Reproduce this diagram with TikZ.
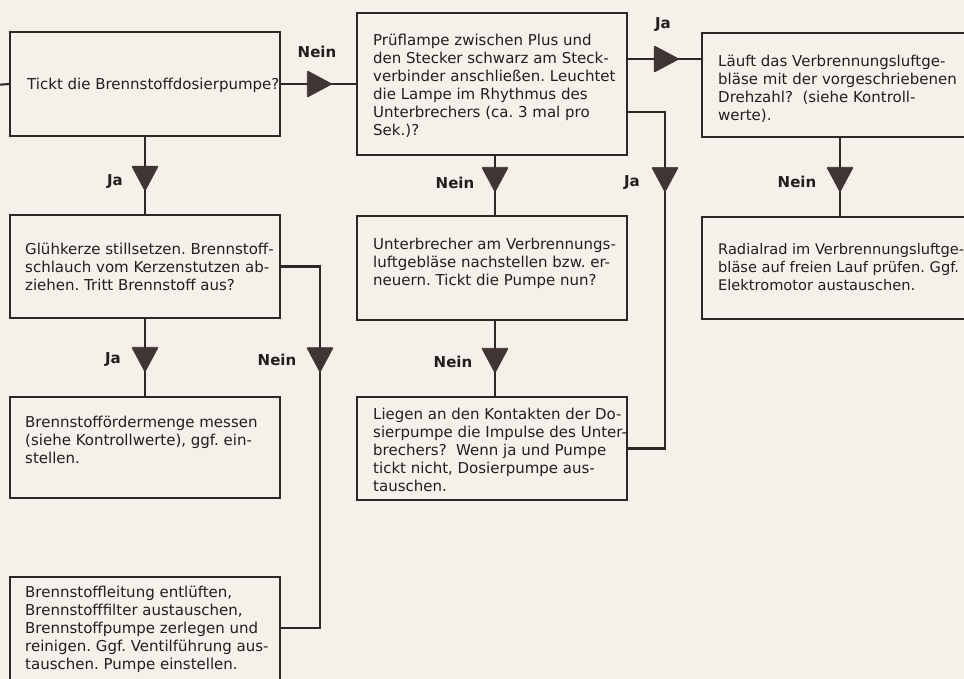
\documentclass[tikz,border=0pt]{standalone}
\usepackage{fontspec}
\setmainfont{DejaVu Sans}
\usetikzlibrary{shapes.geometric,calc}
\definecolor{paper}{RGB}{245,240,233}
\definecolor{linec}{RGB}{45,40,38}
\definecolor{textc}{RGB}{34,30,29}
\definecolor{trifill}{RGB}{64,53,50}
\newcommand{\bodyfont}{\fontsize{15}{18}\selectfont\frenchspacing}
\newcommand{\smallbodyfont}{\fontsize{14.6}{18}\selectfont\frenchspacing}
\newcommand{\labfont}{\fontsize{15}{18}\selectfont\bfseries}
\tikzset{
  box/.style={draw=linec, line width=2.1pt, rectangle, inner sep=0pt, outer sep=0pt, anchor=north west},
  txt/.style={align=left, inner sep=0pt, anchor=west, font=\bodyfont, text=textc},
  lab/.style={inner sep=0pt, font=\labfont, text=textc},
  conn/.style={draw=linec, line width=2.1pt},
  trid/.style={regular polygon, regular polygon sides=3, shape border rotate=180,
    minimum size=30.5pt, inner sep=0pt, fill=trifill, draw=trifill, line width=0.6pt,
    rounded corners=0.8pt, yscale=1.08},
  trir/.style={regular polygon, regular polygon sides=3, shape border rotate=-90,
    minimum size=30.5pt, inner sep=0pt, fill=trifill, draw=trifill, line width=0.6pt,
    rounded corners=0.8pt, xscale=1.08}
}
\begin{document}
\begin{tikzpicture}[x=1pt,y=-1pt]
\useasboundingbox (0,0) rectangle (964,678);
\clip (0,0) rectangle (964,678);
\fill[paper] (-5,-5) rectangle (970,690);

% boxes
\node[box, minimum width=270pt, minimum height=104pt] (A) at (10,32) {};
\node[box, minimum width=270pt, minimum height=142pt] (B) at (357,13) {};
\node[box, minimum width=276pt, minimum height=104pt] (C) at (702,33) {};
\node[box, minimum width=270pt, minimum height=104pt] (D) at (357,216) {};
\node[box, minimum width=276pt, minimum height=102pt] (E) at (702,217) {};
\node[box, minimum width=270pt, minimum height=103pt] (F) at (357,397) {};
\node[box, minimum width=270pt, minimum height=103pt] (G) at (10,215) {};
\node[box, minimum width=270pt, minimum height=101pt] (H) at (10,397) {};
\node[box, minimum width=270pt, minimum height=130pt] (I) at (10,577) {};

% texts
\node[txt] (At) at ([xshift=17pt,yshift=-1pt]A.west) {Tickt die Brennstoffdosierpumpe?};
\node[txt] (Bt) at ([xshift=16pt,yshift=-2pt]B.west) {Prüflampe zwischen Plus und\\den Stecker schwarz am Steck-\\verbinder anschließen. Leuchtet\\die Lampe im Rhythmus des\\Unterbrechers (ca. 3 mal pro\\Sek.)?};
\node[txt] (Ct) at ([xshift=16pt,yshift=-3.5pt]C.west) {Läuft das Verbrennungsluftge-\\bläse mit der vorgeschriebenen\\Drehzahl?\ \ (siehe Kontroll-\\werte).};
\node[txt] (Dt) at ([xshift=16pt,yshift=4.5pt]D.west) {Unterbrecher am Verbrennungs-\\luftgebläse nachstellen bzw. er-\\neuern. Tickt die Pumpe nun?};
\node[txt, font=\smallbodyfont] (Et) at ([xshift=16pt,yshift=1pt]E.west) {Radialrad im Verbrennungsluftge-\\bläse auf freien Lauf prüfen. Ggf.\\Elektromotor austauschen.};
\node[txt] (Ft) at ([xshift=16pt,yshift=-1pt]F.west) {Liegen an den Kontakten der Do-\\sierpumpe die Impulse des Unter-\\brechers?\ \ Wenn ja und Pumpe\\tickt nicht, Dosierpumpe aus-\\tauschen.};
\node[txt] (Gt) at ([xshift=15pt]G.west) {Glühkerze stillsetzen. Brennstoff-\\schlauch vom Kerzenstutzen ab-\\ziehen. Tritt Brennstoff aus?};
\node[txt] (Ht) at ([xshift=15pt,yshift=7.5pt]H.west) {Brennstoffördermenge messen\\(siehe Kontrollwerte), ggf. ein-\\stellen.};
\node[txt, anchor=north west] (It) at (25,586) {Brennstoffleitung entlüften,\\Brennstofffilter austauschen,\\Brennstoffpumpe zerlegen und\\reinigen. Ggf. Ventilführung aus-\\tauschen. Pumpe einstellen.};

% helper coordinates
\coordinate (in) at (-5,85);
\coordinate (bja) at ([yshift=25pt]B.east);
\coordinate (bjb) at ([yshift=-28pt]B.east);
\coordinate (xBF) at (665,0);
\coordinate (xGI) at (320,0);
\coordinate (k3) at (320,628);

% connectors
\draw[conn] (in) -- (A.west);
\draw[conn] (A.east) -- node[trir, pos=0.461] (tAB) {} (B.west);
\draw[conn] (bja) -- node[trir, pos=0.473] (tBC) {} (bja -| C.west);
\draw[conn] (bjb) -- (bjb -| xBF) -- node[trid, pos=0.189] (tBF) {} (F.east -| xBF) -- (F.east);
\draw[conn] ([xshift=3pt]B.south) -- node[trid, pos=0.336] (tBD) {} ([xshift=3pt]D.north);
\draw[conn] ([xshift=3pt]D.south) -- node[trid, pos=0.474] (tDF) {} ([xshift=3pt]F.north);
\draw[conn] (A.south) -- node[trid, pos=0.487] (tAG) {} (G.north);
\draw[conn] (G.south) -- node[trid, pos=0.475] (tGH) {} (H.north);
\draw[conn] (G.east) -- (G.east -| xGI) -- node[trid, pos=0.247] (tGI) {} (k3) -- (k3 -| I.east);
\draw[conn] (C.south) -- node[trid, pos=0.481] (tCE) {} (E.north);

% labels
\node[lab] (lAB) at (317,52) {Nein};
\node[lab] (lBC) at (663,25) {Ja};
\node[lab] (lBF) at (632,183) {Ja};
\node[lab] (lBD) at (455,183) {Nein};
\node[lab] (lDF) at (453,362) {Nein};
\node[lab] (lAG) at (115,182) {Ja};
\node[lab] (lGH) at (113,360) {Ja};
\node[lab] (lGI) at (277,360) {Nein};
\node[lab] (lCE) at (797,182) {Nein};
\end{tikzpicture}
\end{document}
